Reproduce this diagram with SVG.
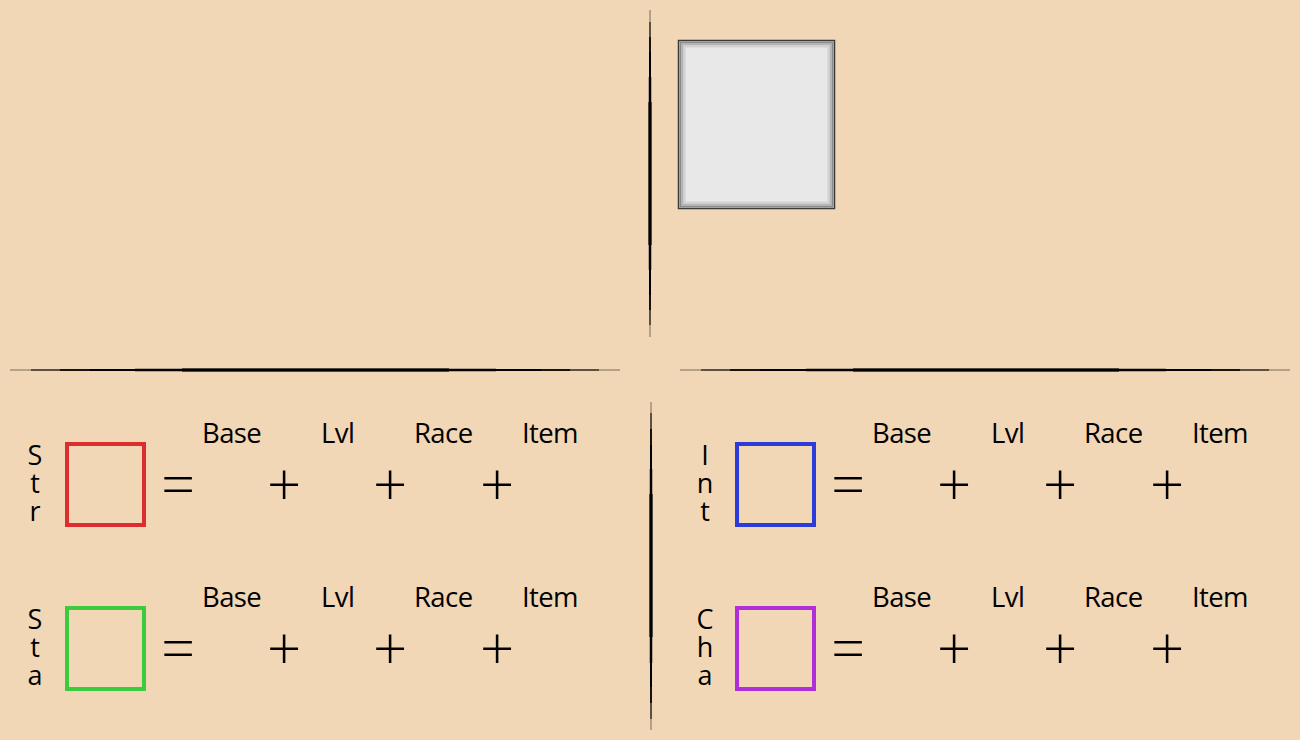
<svg xmlns="http://www.w3.org/2000/svg" width="1300" height="740" viewBox="0 0 1300 740">
<style>
.a{stroke:#000;stroke-opacity:.25;stroke-width:2}
.b{stroke:#000;stroke-opacity:.5;stroke-width:2}
.c{stroke:#000;stroke-opacity:.75;stroke-width:2}
.d{stroke:#000;stroke-width:2}
.e{stroke:#000;stroke-opacity:.25;stroke-width:4}
.f{stroke:#000;stroke-opacity:.55;stroke-width:4}
.lab{font-family:"Open Sans","Noto Sans",sans-serif;font-size:27.5px;letter-spacing:-0.6px;fill:#000}
.let{font-family:"Open Sans","Noto Sans",sans-serif;font-size:27px;letter-spacing:-8.8px;fill:#000;writing-mode:vertical-rl;text-orientation:upright}
.op{font-family:"Open Sans","Noto Sans",sans-serif;font-size:60px;font-weight:300;fill:#000;text-anchor:middle}
.box{fill:none;stroke-width:4}
</style>
<rect width="1300" height="740" fill="#f2d7b6"/>
<g id="dividers">
  <line class="a" x1="650" y1="10" x2="650" y2="337"/>
  <line class="b" x1="650" y1="22" x2="650" y2="325"/>
  <line class="c" x1="650" y1="37" x2="650" y2="310"/>
  <line class="d" x1="650" y1="52" x2="650" y2="295"/>
  <line class="e" x1="650" y1="77" x2="650" y2="270"/>
  <line class="f" x1="650" y1="102" x2="650" y2="245"/>
  <line class="a" x1="651" y1="402" x2="651" y2="730"/>
  <line class="b" x1="651" y1="413" x2="651" y2="719"/>
  <line class="c" x1="651" y1="429" x2="651" y2="703"/>
  <line class="d" x1="651" y1="445" x2="651" y2="687"/>
  <line class="e" x1="651" y1="469" x2="651" y2="663"/>
  <line class="f" x1="651" y1="494" x2="651" y2="637"/>
  <line class="a" x1="10" y1="370" x2="620" y2="370"/>
  <line class="b" x1="31" y1="370" x2="599" y2="370"/>
  <line class="c" x1="60" y1="370" x2="570" y2="370"/>
  <line class="d" x1="90" y1="370" x2="541" y2="370"/>
  <line class="e" x1="135" y1="370" x2="496" y2="370"/>
  <line class="f" x1="182" y1="370" x2="449" y2="370"/>
  <line class="a" x1="680" y1="370" x2="1290" y2="370"/>
  <line class="b" x1="701" y1="370" x2="1269" y2="370"/>
  <line class="c" x1="730" y1="370" x2="1240" y2="370"/>
  <line class="d" x1="760" y1="370" x2="1211" y2="370"/>
  <line class="e" x1="806" y1="370" x2="1166" y2="370"/>
  <line class="f" x1="853" y1="370" x2="1119" y2="370"/>
</g>
<g id="portrait">
  <rect x="678.5" y="40.5" width="156" height="168" fill="#e8e8e8" stroke="#3a3a3a" stroke-width="1.5"/>
  <rect x="680.5" y="42.5" width="152" height="164" fill="none" stroke="#8a8a8a" stroke-width="2"/>
  <rect x="682.5" y="44.5" width="148" height="160" fill="none" stroke="#b4b4b4" stroke-width="2"/>
  <rect x="684.5" y="46.5" width="144" height="156" fill="none" stroke="#d2d2d2" stroke-width="2"/>
</g>
<g id="str">
  <text class="let" x="35" y="436">Str</text>
  <rect class="box" x="67" y="444" width="77" height="81" stroke="#dc2e2e"/>
  <text class="op" x="178" y="506">=</text>
  <text class="op" x="284" y="506">+</text><text class="op" x="390" y="506">+</text><text class="op" x="497" y="506">+</text>
  <text class="lab" x="202" y="443">Base</text><text class="lab" x="321" y="443">Lvl</text><text class="lab" x="414" y="443">Race</text><text class="lab" x="522" y="443">Item</text>
</g>
<g id="sta" transform="translate(0,164)">
  <text class="let" x="35" y="436">Sta</text>
  <rect class="box" x="67" y="444" width="77" height="81" stroke="#3ccb3c"/>
  <text class="op" x="178" y="506">=</text>
  <text class="op" x="284" y="506">+</text><text class="op" x="390" y="506">+</text><text class="op" x="497" y="506">+</text>
  <text class="lab" x="202" y="443">Base</text><text class="lab" x="321" y="443">Lvl</text><text class="lab" x="414" y="443">Race</text><text class="lab" x="522" y="443">Item</text>
</g>
<g id="int" transform="translate(670,0)">
  <text class="let" x="35" y="436">Int</text>
  <rect class="box" x="67" y="444" width="77" height="81" stroke="#2b3cd8"/>
  <text class="op" x="178" y="506">=</text>
  <text class="op" x="284" y="506">+</text><text class="op" x="390" y="506">+</text><text class="op" x="497" y="506">+</text>
  <text class="lab" x="202" y="443">Base</text><text class="lab" x="321" y="443">Lvl</text><text class="lab" x="414" y="443">Race</text><text class="lab" x="522" y="443">Item</text>
</g>
<g id="cha" transform="translate(670,164)">
  <text class="let" x="35" y="436">Cha</text>
  <rect class="box" x="67" y="444" width="77" height="81" stroke="#b02fd8"/>
  <text class="op" x="178" y="506">=</text>
  <text class="op" x="284" y="506">+</text><text class="op" x="390" y="506">+</text><text class="op" x="497" y="506">+</text>
  <text class="lab" x="202" y="443">Base</text><text class="lab" x="321" y="443">Lvl</text><text class="lab" x="414" y="443">Race</text><text class="lab" x="522" y="443">Item</text>
</g>
</svg>
